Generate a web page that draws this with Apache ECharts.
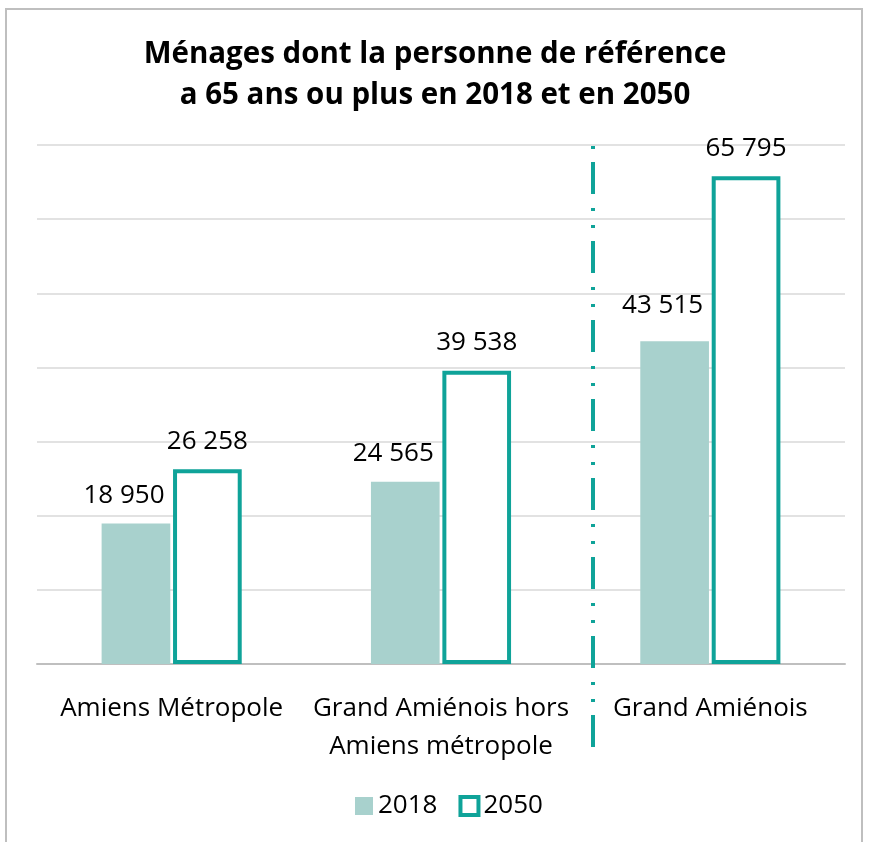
<!DOCTYPE html>
<html>
<head>
<meta charset="utf-8">
<script src="https://cdn.jsdelivr.net/npm/echarts@6/dist/echarts.min.js"></script>
<style>
  html, body { margin: 0; padding: 0; background: #fff; }
  #chart { width: 870px; height: 842px; }
</style>
</head>
<body>
<div id="chart"></div>
<script>
// données
const categories = ["Amiens Métropole", "Grand Amiénois hors\nAmiens métropole", "Grand Amiénois"];
const values2018 = [18950, 24565, 43515];
const values2050 = [26258, 39538, 65795];

const teal = "#0fa399";
const paleTeal = "#a8d1cd";
const font = "'Open Sans', 'Noto Sans', sans-serif";

// séparateur de milliers : 18950 -> 18 950
const fmt = (v) => String(v).replace(/\B(?=(\d{3})+(?!\d))/g, " ");

const chart = echarts.init(document.getElementById("chart"));

const option = {
  backgroundColor: "#fff",
  title: {
    text: "Ménages dont la personne de référence\na 65 ans ou plus en 2018 et en 2050",
    left: "center",
    top: 29,
    textStyle: {
      fontFamily: font,
      fontWeight: "bold",
      fontSize: 29.5,
      lineHeight: 41,
      color: "#000",
    },
  },
  legend: {
    bottom: 18,
    left: 350,
    itemWidth: 18,
    itemHeight: 18,
    itemGap: 21,
    icon: "rect",
    textStyle: { fontFamily: font, fontSize: 26, color: "#000", padding: [0, 0, 0, 0] },
    data: [
      { name: "2018", itemStyle: { color: paleTeal, borderWidth: 0 } },
      { name: "2050", itemStyle: { color: "#fff", borderColor: teal, borderWidth: 4 } },
    ],
  },
  grid: { left: 37, right: 25, top: 145, bottom: 178 },
  xAxis: {
    type: "category",
    data: categories,
    axisLine: { lineStyle: { color: "#bfbfbf", width: 2 } },
    axisTick: { show: false },
    axisLabel: {
      fontFamily: font,
      fontSize: 26,
      color: "#000",
      lineHeight: 38,
      margin: 26,
      interval: 0,
    },
  },
  yAxis: {
    type: "value",
    min: 0,
    max: 70000,
    interval: 10000,
    axisLabel: { show: false },
    axisLine: { show: false },
    axisTick: { show: false },
    splitLine: { lineStyle: { color: "#d9d9d9", width: 1.5 } },
  },
  series: [
    {
      name: "2018",
      type: "bar",
      // l'étiquette du dernier groupe est placée un peu plus haut
      data: values2018.map((v, i) => (i === 2 ? { value: v, label: { distance: 23 } } : v)),
      barWidth: "25.5%",
      barGap: "4%",
      itemStyle: { color: paleTeal },
      label: {
        show: true,
        position: "top",
        distance: 15,
        offset: [-12, 0],
        formatter: (p) => fmt(p.value),
        fontFamily: font,
        fontSize: 26,
        color: "#000",
      },
    },
    {
      name: "2050",
      type: "bar",
      data: values2050,
      barWidth: "25.5%",
      itemStyle: { color: "#fff", borderColor: teal, borderWidth: 4 },
      label: {
        show: true,
        position: "top",
        distance: 15,
        formatter: (p) => fmt(p.value),
        fontFamily: font,
        fontSize: 26,
        color: "#000",
      },
    },
  ],
  graphic: [
    // cadre gris
    {
      type: "rect",
      shape: { x: 6, y: 9, width: 856, height: 900 },
      style: { fill: null, stroke: "#bfbfbf", lineWidth: 2 },
      silent: true,
    },
    // séparateur en tiret-point-point
    {
      type: "line",
      shape: { x1: 593, y1: 146, x2: 593, y2: 750 },
      style: { stroke: teal, lineWidth: 4, lineDash: [3, 13, 32, 14, 3, 14] },
      silent: true,
      z: 10,
    },
  ],
};

chart.setOption(option);
</script>
</body>
</html>
